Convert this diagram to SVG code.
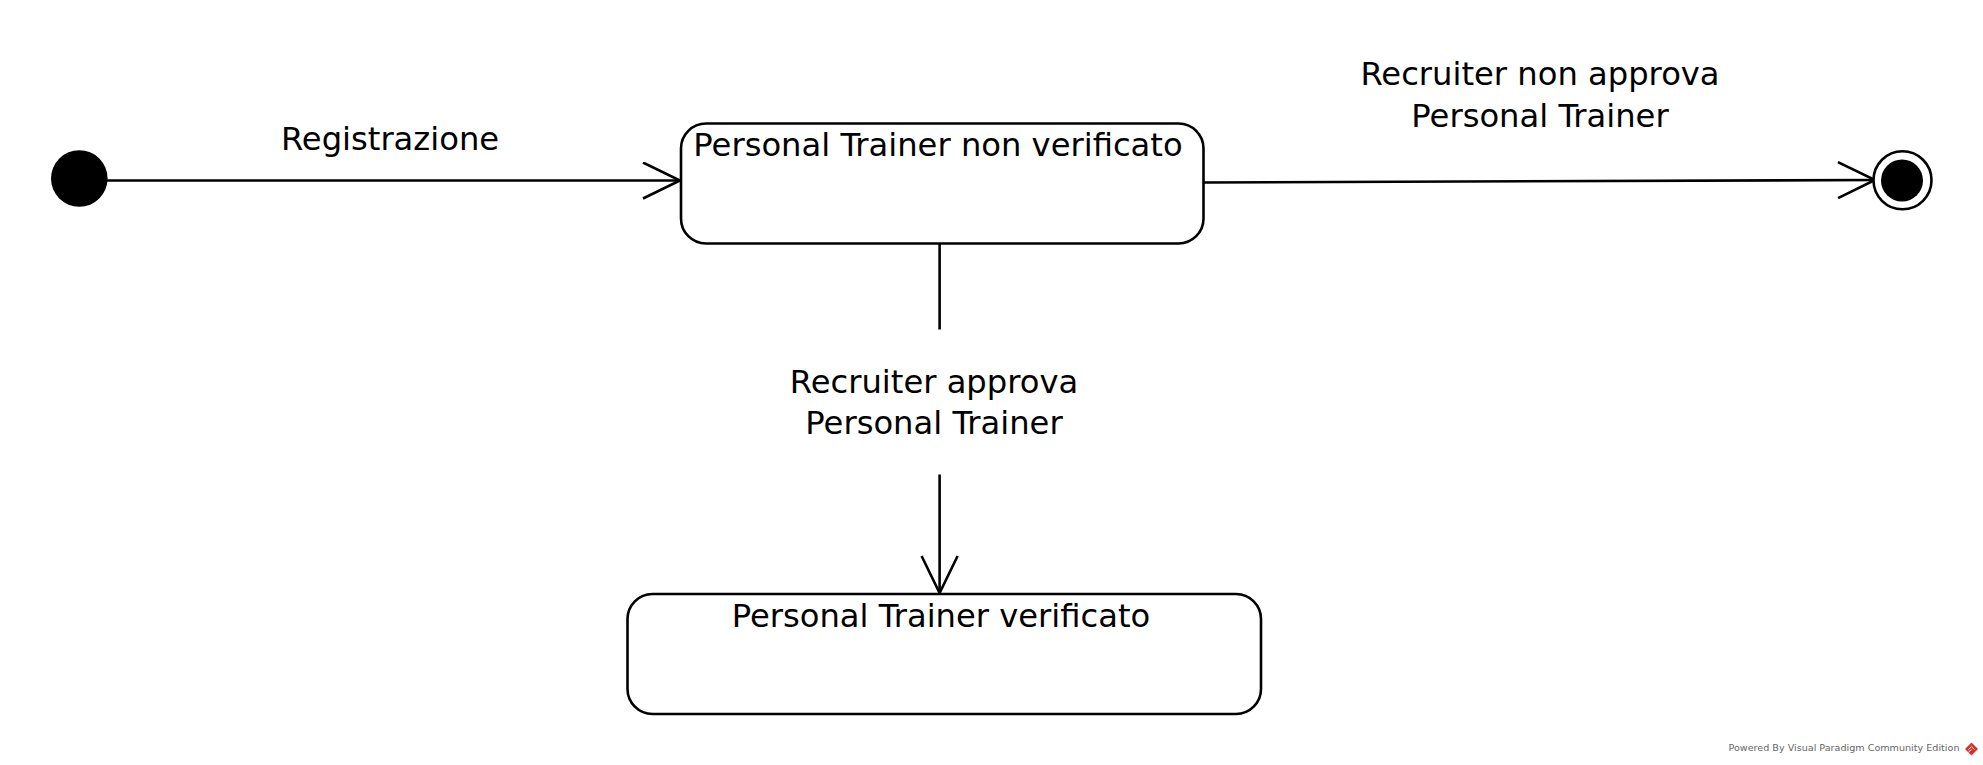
<svg xmlns="http://www.w3.org/2000/svg" width="1983" height="765" viewBox="0 0 1983 765">
  <style>
    .state { fill: #ffffff; stroke: #000000; stroke-width: 2.6; }
    .label { font-family: "DejaVu Sans", "Liberation Sans", sans-serif; font-size: 32.2px; fill: #000000; text-anchor: middle; }
    .edge { fill: none; stroke: #000000; stroke-width: 2.6; }
    .wm { font-family: "DejaVu Sans", "Liberation Sans", sans-serif; font-size: 9.5px; fill: #666666; }
  </style>
  <defs>
    <marker id="open" viewBox="0 0 42 40" refX="39" refY="19" markerWidth="42" markerHeight="40" markerUnits="userSpaceOnUse" orient="auto">
      <path d="M2,1 L39,19 L2,37" fill="none" stroke="#000000" stroke-width="2.6"/>
    </marker>
  </defs>
  <rect width="1983" height="765" fill="#ffffff"/>

  <g id="connectors">
    <g id="e-registrazione">
      <line class="edge" x1="107" y1="180.5" x2="680" y2="180.5" marker-end="url(#open)"/>
      <text class="label" x="390" y="150">Registrazione</text>
    </g>
    <g id="e-non-approva">
      <line class="edge" x1="1204" y1="182.5" x2="1875" y2="180" marker-end="url(#open)"/>
      <text class="label" x="1540" y="85">Recruiter non approva</text>
      <text class="label" x="1540" y="127">Personal Trainer</text>
    </g>
    <g id="e-approva">
      <line class="edge" x1="939.6" y1="243.5" x2="939.6" y2="329.5"/>
      <line class="edge" x1="939.6" y1="474.5" x2="939.6" y2="593" marker-end="url(#open)"/>
      <text class="label" x="934" y="392.5">Recruiter approva</text>
      <text class="label" x="934" y="434">Personal Trainer</text>
    </g>
  </g>

  <g id="initial">
    <circle cx="79.3" cy="178.5" r="28.3" fill="#000000"/>
  </g>

  <g id="s-non-verificato">
    <rect class="state" x="681" y="123.5" width="522.5" height="120" rx="25" ry="25"/>
    <text class="label" x="938" y="155.5">Personal Trainer non verificato</text>
  </g>

  <g id="s-verificato">
    <rect class="state" x="627.5" y="594" width="633.5" height="120" rx="25" ry="25"/>
    <text class="label" x="941" y="627">Personal Trainer verificato</text>
  </g>

  <g id="final">
    <circle cx="1902.5" cy="180.3" r="29" fill="#ffffff" stroke="#000000" stroke-width="2.6"/>
    <circle cx="1902" cy="180.5" r="21" fill="#000000"/>
  </g>

  <g id="watermark">
    <text class="wm" x="1728.5" y="750.5" textLength="231" lengthAdjust="spacingAndGlyphs">Powered By Visual Paradigm Community Edition</text>
    <polygon points="1971.5,742.5 1978,749 1971.5,755.5 1965,749" fill="#d9302c"/>
    <path d="M1968.5,749.5 L1971.5,746.5 L1974.5,749.5 M1968.5,752 L1971.5,749.5" fill="none" stroke="#ffffff" stroke-width="1"/>
  </g>
</svg>
